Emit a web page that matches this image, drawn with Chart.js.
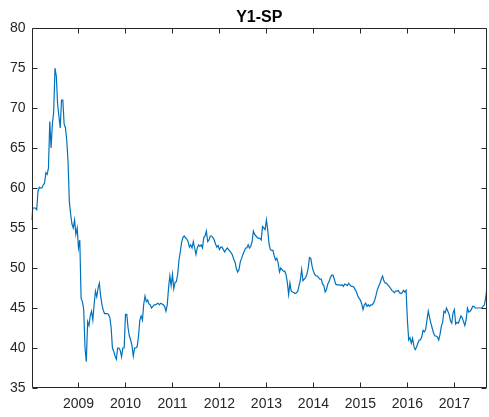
<!DOCTYPE html>
<html>
<head>
<meta charset="utf-8">
<script src="https://cdn.jsdelivr.net/npm/chart.js@4"></script>
<style>
  body { margin: 0; background: #fff; }
</style>
</head>
<body>
<canvas id="myChart" width="489" height="417"></canvas>
<script>
// Werte ca. alle 10 Tage (36 pro Jahr)
const perYear = 36;
const years = [2008, 2009, 2010, 2011, 2012, 2013, 2014, 2015, 2016, 2017];

const y2008 = [56.0, 57.5, 57.5, 57.5, 57.3, 59.6, 60.1, 60.0, 60.0, 60.4, 60.6, 61.9, 61.7, 62.5, 68.3, 65.0, 68.0, 69.5,
               75.0, 74.0, 70.5, 69.0, 67.5, 71.0, 71.0, 68.0, 67.5, 66.0, 63.3, 58.3, 56.7, 55.5, 55.0, 56.0, 54.2, 55.0];
const y2009 = [52.5, 53.5, 46.2, 45.8, 44.8, 40.0, 38.3, 43.3, 42.8, 44.0, 44.6, 43.5, 45.5, 47.1, 46.4, 47.5, 48.1, 46.5,
               45.4, 44.7, 44.3, 44.3, 44.3, 44.2, 43.8, 42.6, 40.0, 39.6, 39.0, 38.6, 40.0, 40.0, 39.7, 38.9, 40.0, 40.0];
const y2010 = [44.2, 44.2, 42.5, 41.5, 41.0, 40.3, 39.0, 40.0, 40.0, 40.2, 41.5, 43.5, 44.0, 43.5, 45.5, 46.5, 45.8, 46.0,
               45.5, 45.4, 45.0, 45.2, 45.4, 45.4, 45.5, 45.6, 45.4, 45.6, 45.5, 45.4, 45.2, 44.6, 45.4, 47.5, 49.0, 47.8];
const y2011 = [49.2, 47.4, 48.2, 48.3, 49.2, 51.0, 52.0, 53.2, 53.8, 54.0, 53.8, 53.6, 53.3, 52.6, 52.9, 52.5, 53.3, 52.5,
               51.7, 52.5, 52.9, 52.7, 52.9, 52.5, 53.8, 54.0, 54.6, 53.3, 53.5, 54.0, 54.0, 53.8, 53.5, 53.0, 52.6, 52.8];
const y2012 = [52.3, 52.6, 52.6, 52.3, 52.0, 52.3, 52.5, 52.3, 52.1, 51.9, 51.6, 51.1, 50.7, 49.9, 49.5, 49.8, 50.8, 51.2,
               51.7, 52.1, 52.5, 52.5, 52.9, 52.5, 52.7, 53.3, 54.6, 54.2, 54.0, 53.8, 53.7, 53.7, 53.5, 55.2, 55.0, 54.8];
const y2013 = [56.0, 54.8, 53.0, 52.3, 52.2, 52.2, 51.5, 51.0, 51.2, 50.6, 49.5, 50.0, 49.8, 49.6, 49.6, 49.2, 48.2, 46.7,
               48.1, 47.1, 47.0, 46.9, 46.8, 46.9, 47.1, 47.8, 48.5, 49.8, 48.4, 48.6, 48.8, 49.2, 50.0, 51.3, 51.2, 50.2];
const y2014 = [49.6, 49.2, 49.0, 49.0, 48.8, 48.6, 48.6, 48.0, 47.8, 47.0, 47.3, 48.0, 48.3, 48.8, 49.1, 49.1, 48.6, 48.0,
               47.9, 47.9, 47.9, 47.8, 47.9, 47.7, 48.0, 47.9, 47.8, 48.1, 47.9, 47.7, 47.7, 47.6, 47.3, 47.0, 46.5, 46.2];
const y2015 = [46.0, 45.5, 44.8, 45.4, 45.6, 45.2, 45.4, 45.2, 45.4, 45.4, 45.6, 46.0, 46.6, 47.3, 47.7, 48.1, 48.6, 49.0,
               48.4, 48.1, 48.1, 47.9, 47.7, 47.5, 47.2, 47.1, 46.9, 47.1, 47.1, 47.2, 46.9, 46.8, 46.9, 47.2, 47.0, 47.2];
const y2016 = [43.5, 41.0, 41.3, 40.6, 41.2, 40.2, 39.8, 40.1, 40.6, 41.0, 41.0, 41.4, 42.2, 42.0, 42.3, 43.5, 44.6, 43.8,
               43.1, 42.5, 41.9, 41.5, 41.5, 41.4, 41.0, 41.7, 42.7, 43.2, 44.6, 44.4, 45.0, 44.6, 44.2, 43.4, 43.1, 44.4];
const y2017 = [44.8, 43.0, 43.2, 43.1, 43.5, 44.0, 43.8, 43.3, 42.8, 43.5, 45.0, 44.5, 44.6, 44.8, 45.2, 45.2, 45.0, 45.0,
               45.0, 45.0, 45.0, 45.0, 45.2, 45.4, 46.3, 47.5];

const xTickYears = [2009, 2010, 2011, 2012, 2013, 2014, 2015, 2016, 2017];
const yTickStep = 5;
const titleText = 'Y1-SP';

// Punkte zusammenbauen: Jahr + Anteil
const yearly = [y2008, y2009, y2010, y2011, y2012, y2013, y2014, y2015, y2016, y2017];
const points = [];
yearly.forEach((vals, i) => {
    vals.forEach((v, k) => points.push({ x: years[i] + k / perYear, y: v }));
});
const xMin = points[0].x;
const xMax = points[points.length - 1].x;

const textColor = '#262626';
const family = "'Liberation Sans', Arial, Helvetica, sans-serif";
const font = { family: family, size: 14 };

// Rahmen mit nach innen zeigenden Ticks (wie MATLAB) + Titel über der Achse
const frame = {
    id: 'frame',
    afterDatasetsDraw(chart) {
        const { ctx, chartArea: a, scales } = chart;
        const L = Math.round(a.left) + 0.5, R = Math.round(a.right) - 0.5;
        const T = Math.round(a.top) + 0.5, B = Math.round(a.bottom) - 0.5;
        const len = 5;
        ctx.save();
        ctx.strokeStyle = textColor;
        ctx.lineWidth = 1;
        ctx.beginPath();
        ctx.rect(L, T, R - L, B - T);
        scales.x.ticks.forEach((t) => {
            const px = Math.round(scales.x.getPixelForValue(t.value)) + 0.5;
            ctx.moveTo(px, B); ctx.lineTo(px, B - len);
            ctx.moveTo(px, T); ctx.lineTo(px, T + len);
        });
        scales.y.ticks.forEach((t) => {
            const py = Math.round(scales.y.getPixelForValue(t.value)) + 0.5;
            ctx.moveTo(L, py); ctx.lineTo(L + len, py);
            ctx.moveTo(R, py); ctx.lineTo(R - len, py);
        });
        ctx.stroke();

        // Titel zentriert über dem Plotbereich
        ctx.fillStyle = '#000';
        ctx.font = 'bold 16px ' + family;
        ctx.textAlign = 'center';
        ctx.textBaseline = 'middle';
        ctx.fillText(titleText, (a.left + a.right) / 2, 17.5);
        ctx.restore();
    }
};

const ctx = document.getElementById('myChart').getContext('2d');

let chart = new Chart(ctx, {
    type: 'line',
    data: {
        datasets: [{
            data: points,
            borderColor: '#0072BD',
            borderWidth: 1.2,
            pointRadius: 0,
            tension: 0,
            fill: false
        }]
    },
    options: {
        responsive: false,
        animation: false,
        layout: { padding: { left: 0, right: 2, top: 28, bottom: 0 } },
        plugins: {
            legend: { display: false },
            tooltip: { enabled: false },
            title: { display: false }
        },
        scales: {
            x: {
                type: 'linear',
                min: xMin,
                max: xMax,
                grid: { display: false, drawTicks: false },
                border: { display: false },
                afterBuildTicks: (scale) => {
                    scale.ticks = xTickYears.map((v) => ({ value: v }));
                },
                afterFit: (scale) => { scale.height = 29; },
                ticks: {
                    color: textColor,
                    font: font,
                    padding: 8,
                    maxRotation: 0,
                    autoSkip: false,
                    callback: (v) => String(v)
                }
            },
            y: {
                min: 35,
                max: 80,
                grid: { display: false, drawTicks: false },
                border: { display: false },
                afterFit: (scale) => { scale.width = 31.5; },
                ticks: {
                    stepSize: yTickStep,
                    color: textColor,
                    font: font,
                    padding: 6
                }
            }
        }
    },
    plugins: [frame]
});
</script>
</body>
</html>
